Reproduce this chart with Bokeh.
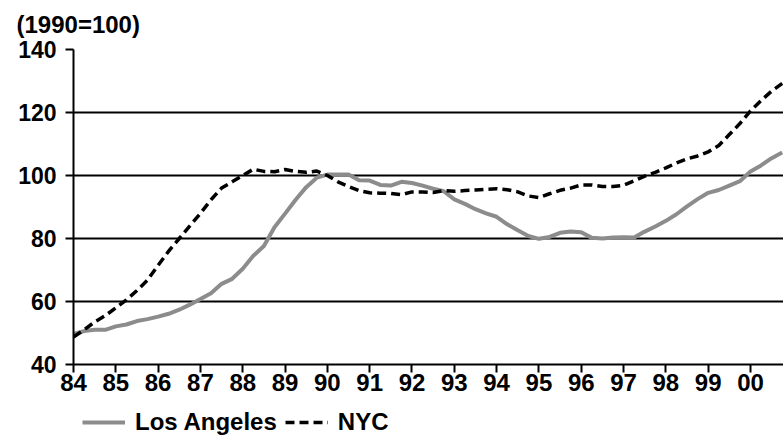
from bokeh.plotting import figure
from bokeh.layouts import column
from bokeh.models import FixedTicker, Legend, LegendItem, Range1d, Title
from bokeh.embed import file_html
from bokeh.resources import INLINE

# ---- data (quarterly index, 1990=100) ----
year_starts = list(range(84, 101))
quarter_offsets = [0.0, 0.25, 0.5, 0.75]
quarters = [y + q for y in year_starts for q in quarter_offsets]

los_angeles = [
    49.7, 50.6, 51.0, 51.0,     # 84
    52.1, 52.7, 53.8, 54.4,     # 85
    55.2, 56.1, 57.4, 59.0,     # 86
    60.8, 62.6, 65.6, 67.2,     # 87
    70.4, 74.5, 77.6, 83.6,     # 88
    87.9, 92.3, 96.3, 99.3,     # 89
    100.3, 100.3, 100.3, 98.5,  # 90
    98.4, 97.0, 96.8, 98.0,     # 91
    97.6, 96.8, 95.8, 95.0,     # 92
    92.4, 91.0, 89.3, 88.0,     # 93
    86.9, 84.5, 82.6, 80.8,     # 94
    79.9, 80.5, 81.8, 82.2,     # 95
    82.0, 80.2, 80.0, 80.3,     # 96
    80.4, 80.3, 82.2, 83.8,     # 97
    85.6, 87.7, 90.2, 92.5,     # 98
    94.5, 95.4, 96.8, 98.2,     # 99
    101.3, 103.2, 105.5, 107.3, # 00
]

nyc = [
    48.7, 51.0, 53.5, 55.5,     # 84
    58.0, 60.5, 63.5, 66.8,     # 85
    71.5, 76.0, 80.0, 84.0,     # 86
    88.0, 92.3, 96.0, 98.0,     # 87
    100.0, 102.0, 101.3, 101.2, # 88
    101.9, 101.3, 101.0, 101.4, # 89
    100.0, 98.0, 96.5, 95.2,    # 90
    94.5, 94.4, 94.3, 93.9,     # 91
    94.8, 94.8, 94.6, 95.2,     # 92
    95.0, 95.2, 95.4, 95.6,     # 93
    95.8, 95.5, 94.8, 93.5,     # 94
    93.0, 94.2, 95.3, 96.0,     # 95
    97.0, 97.0, 96.5, 96.5,     # 96
    96.9, 98.3, 99.8, 101.0,    # 97
    102.4, 104.0, 105.3, 106.2, # 98
    107.5, 109.5, 113.0, 116.5, # 99
    120.5, 123.8, 126.8, 129.2, # 00
]

x_ticks = list(range(84, 101))
x_tick_labels = ["84", "85", "86", "87", "88", "89", "90", "91", "92",
                 "93", "94", "95", "96", "97", "98", "99", "00"]
y_ticks = [40, 60, 80, 100, 120, 140]
series_names = ["Los Angeles", "NYC"]
unit_note = "(1990=100)"

FONT = "Liberation Sans"
LA_STYLE = dict(line_color="#8c8c8c", line_width=4)
NYC_STYLE = dict(line_color="black", line_width=3.5, line_dash="9 5")

# ---------------- main chart ----------------
p = figure(width=783, height=400, output_backend="svg", toolbar_location=None,
           x_range=Range1d(84, 100.78), y_range=Range1d(40, 140),
           min_border_left=73, min_border_right=0, min_border_top=49,
           min_border_bottom=36)
p.outline_line_color = None
p.background_fill_color = "white"
p.border_fill_color = "white"

p.xgrid.visible = False
p.ygrid.ticker = FixedTicker(ticks=y_ticks)
p.ygrid.grid_line_color = "black"
p.ygrid.grid_line_width = 2

p.xaxis.ticker = FixedTicker(ticks=x_ticks)
p.xaxis.major_label_overrides = {t: l for t, l in zip(x_ticks, x_tick_labels)}
p.yaxis.ticker = FixedTicker(ticks=y_ticks)
for ax in (p.xaxis[0], p.yaxis[0]):
    ax.axis_line_color = "black"
    ax.axis_line_width = 2
    ax.major_tick_line_color = "black"
    ax.major_tick_line_width = 2
    ax.major_tick_in = 0
    ax.major_tick_out = 8
    ax.minor_tick_line_color = None
    ax.major_label_text_font = FONT
    ax.major_label_text_font_style = "bold"
    ax.major_label_text_color = "black"
p.xaxis.major_label_text_font_size = "24px"
p.xaxis.major_label_standoff = 1
p.yaxis.major_label_text_font_size = "23px"
p.yaxis.major_label_standoff = 9

p.line(quarters, los_angeles, **LA_STYLE)
p.line(quarters, nyc, **NYC_STYLE)

note = Title(text=unit_note, align="left", offset=-57, standoff=19,
             vertical_align="top",
             text_font=FONT, text_font_style="bold", text_font_size="24px",
             text_color="black")
p.add_layout(note, "above")

# ---------------- legend strip ----------------
# same series drawn out of view; only their legend samples show
lg = figure(width=783, height=36, output_backend="svg", toolbar_location=None,
            x_axis_location=None, y_axis_location=None,
            x_range=Range1d(0, 1), y_range=Range1d(0, 1),
            min_border_left=0, min_border_right=0, min_border_top=0,
            min_border_bottom=0)
lg.outline_line_color = None
lg.grid.visible = False
lg_la = lg.line(quarters, los_angeles, **LA_STYLE)
lg_nyc = lg.line(quarters, nyc, **NYC_STYLE)

legend = Legend(items=[LegendItem(label=series_names[0], renderers=[lg_la]),
                       LegendItem(label=series_names[1], renderers=[lg_nyc])],
                orientation="horizontal", location=(9, 0),
                glyph_width=43, glyph_height=20, label_standoff=10, spacing=8,
                padding=0, margin=0, border_line_color=None,
                background_fill_alpha=0,
                label_text_font=FONT, label_text_font_style="bold",
                label_text_font_size="24px", label_text_color="black")
lg.add_layout(legend, "center")

layout = column(p, lg, spacing=0)
open("out.html", "w").write(file_html(layout, INLINE))
